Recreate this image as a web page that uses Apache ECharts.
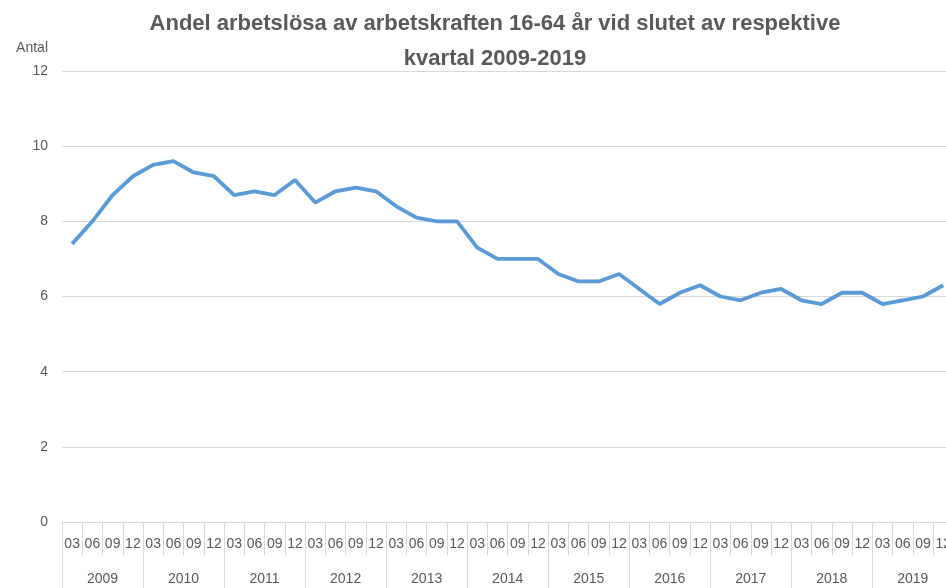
<!DOCTYPE html>
<html>
<head>
<meta charset="utf-8">
<script src="https://cdn.jsdelivr.net/npm/echarts@6/dist/echarts.min.js"></script>
<style>
  html, body { margin: 0; padding: 0; background: #fff; overflow: hidden; }
  #chart { width: 954px; height: 588px; }
</style>
</head>
<body>
<div id="chart"></div>
<script>
var years = ['2009', '2010', '2011', '2012', '2013', '2014', '2015', '2016', '2017', '2018', '2019'];
var quarters = ['03', '06', '09', '12'];
var values = [
  7.4, 8.0, 8.7, 9.2,
  9.5, 9.6, 9.3, 9.2,
  8.7, 8.8, 8.7, 9.1,
  8.5, 8.8, 8.9, 8.8,
  8.4, 8.1, 8.0, 8.0,
  7.3, 7.0, 7.0, 7.0,
  6.6, 6.4, 6.4, 6.6,
  6.2, 5.8, 6.1, 6.3,
  6.0, 5.9, 6.1, 6.2,
  5.9, 5.8, 6.1, 6.1,
  5.8, 5.9, 6.0, 6.3
];

// one label per quarter, repeated for every year
var quarterLabels = [];
years.forEach(function (y) {
  quarters.forEach(function (q) { quarterLabels.push(q); });
});

var font = 'Liberation Sans';
var gray = '#595959';
var lineGray = '#d9d9d9';

// the div is a bit wider than the window, so the last quarter gets cut like in the original
var chart = echarts.init(document.getElementById('chart'));
chart.setOption({
  animation: false,
  backgroundColor: '#fff',
  title: {
    text: 'Andel arbetslösa av arbetskraften 16-64 år vid slutet av respektive\nkvartal 2009-2019',
    left: 490,
    textAlign: 'center',
    top: 1,
    textStyle: {
      fontFamily: font,
      fontSize: 22,
      fontWeight: 'bold',
      color: gray,
      lineHeight: 35
    }
  },
  grid: {
    left: 62,
    right: 0,
    top: 71,
    bottom: 66
  },
  xAxis: [{
    type: 'category',
    data: quarterLabels,
    position: 'bottom',
    axisLine: { show: true, lineStyle: { color: lineGray } },
    axisTick: { show: true, interval: 0, length: 33, lineStyle: { color: lineGray } },
    axisLabel: {
      interval: 0,
      margin: 15,
      fontFamily: font,
      fontSize: 14,
      color: gray
    }
  }, {
    type: 'category',
    data: years,
    position: 'bottom',
    axisLine: { show: false },
    axisTick: { show: true, interval: 0, length: 70, lineStyle: { color: lineGray } },
    axisLabel: {
      interval: 0,
      margin: 50,
      fontFamily: font,
      fontSize: 14,
      color: gray
    }
  }],
  yAxis: {
    type: 'value',
    min: 0,
    max: 12,
    interval: 2,
    name: 'Antal',
    nameLocation: 'end',
    nameGap: 16,
    nameTextStyle: {
      fontFamily: font,
      fontSize: 14,
      color: gray,
      align: 'right',
      padding: [0, 14, 0, 0]
    },
    axisLine: { show: false },
    axisTick: { show: false },
    axisLabel: {
      margin: 14,
      fontFamily: font,
      fontSize: 14,
      color: gray
    },
    splitLine: { lineStyle: { color: lineGray } }
  },
  series: [{
    type: 'line',
    xAxisIndex: 0,
    data: values,
    showSymbol: false,
    symbol: 'none',
    lineStyle: { color: '#5b9bd5', width: 3.8 },
    itemStyle: { color: '#5b9bd5' }
  }]
});
</script>
</body>
</html>
